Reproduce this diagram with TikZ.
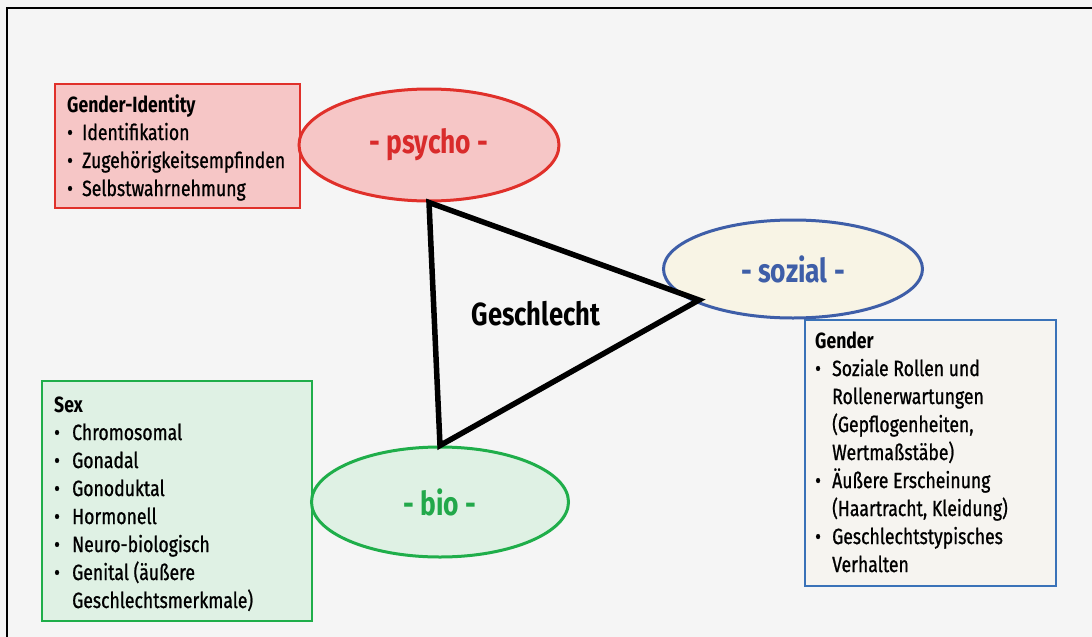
\documentclass[tikz,border=0pt]{standalone}
\usepackage{fontspec}
\setmainfont{Fira Sans}[FakeStretch=0.8, UprightFeatures={FakeBold=0.9}]
\usetikzlibrary{shapes.geometric,backgrounds}
\definecolor{bg}{HTML}{F5F5F5}
\definecolor{redline}{HTML}{E0302A}
\definecolor{redfill}{HTML}{F6C6C6}
\definecolor{redtext}{HTML}{D92B2B}
\definecolor{blueline}{HTML}{3E5EA8}
\definecolor{bluefill}{HTML}{F8F4E5}
\definecolor{boxblue}{HTML}{3A72B8}
\definecolor{boxbluefill}{HTML}{F6F4F0}
\definecolor{greenline}{HTML}{1FAE4A}
\definecolor{greenfill}{HTML}{DFF1E4}
\definecolor{greentext}{HTML}{22A84A}
\newcommand\bul[1]{\makebox[#1][l]{\textbullet}}
\tikzset{
  infobox/.style={draw, line width=2, rectangle, inner sep=0},
  circ/.style={ellipse, draw, line width=3, inner sep=0, font=\fontsize{33}{36}\selectfont\bfseries},
  boxtext/.style={anchor=base west, inner sep=0, font=\fontsize{22}{28}\selectfont},
}
\begin{document}
\begin{tikzpicture}[x=1pt,y=-1pt]
\useasboundingbox (0,0) rectangle (1092,637);
\fill[bg] (0,0) rectangle (1092,637);
\draw[line width=2.5] (7,637) -- (7,8) -- (1092,8);

% boxes
\node[infobox, draw=redline, fill=redfill, minimum width=245, minimum height=124] (rb) at (177.5,146) {};
\node[infobox, draw=greenline, fill=greenfill, minimum width=270, minimum height=240] (gb) at (177,501) {};
\node[infobox, draw=boxblue, fill=boxbluefill, minimum width=251, minimum height=266] (bb) at (930.5,453) {};

% ellipses
\node[circ, draw=redline, fill=redfill, text=redtext, minimum width=260, minimum height=112] (ps) at (429,145) {- psycho -};
\node[circ, draw=blueline, fill=bluefill, text=blueline, minimum width=259, minimum height=98] (so) at (793,269) {- sozial -};
\node[circ, draw=greenline, fill=greenfill, text=greentext, minimum width=257, minimum height=110] (bio) at (440,502) {- bio -};

% triangle
\coordinate (sv) at (699,300);
\draw[line width=5.5, line join=miter] (ps.south) -- (sv) -- (bio.north) -- cycle;
\node[font=\fontsize{32}{36}\selectfont\bfseries] (g) at (536,314) {Geschlecht};

% texts
\node[boxtext] (rt) at (67,112) {\begin{tabular}[t]{@{}l@{}l@{}}
\multicolumn{2}{@{}l@{}}{\bfseries Gender-Identity}\\
\bul{15pt} & Identifikation\\
\bul{15pt} & Zugehörigkeitsempfinden\\
\bul{15pt} & Selbstwahrnehmung
\end{tabular}};

\node[boxtext] (gt) at (54,412) {\begin{tabular}[t]{@{}l@{}l@{}}
\multicolumn{2}{@{}l@{}}{\bfseries Sex}\\
\bul{18pt} & Chromosomal\\
\bul{18pt} & Gonadal\\
\bul{18pt} & Gonoduktal\\
\bul{18pt} & Hormonell\\
\bul{18pt} & Neuro-biologisch\\
\bul{18pt} & Genital (äußere\\
 & Geschlechtsmerkmale)
\end{tabular}};

\node[boxtext] (bt) at (815,348) {\begin{tabular}[t]{@{}l@{}l@{}}
\multicolumn{2}{@{}l@{}}{\bfseries Gender}\\
\bul{17pt} & Soziale Rollen und\\
 & Rollenerwartungen\\
 & (Gepflogenheiten,\\
 & Wertmaßstäbe)\\
\bul{17pt} & Äußere Erscheinung\\
 & (Haartracht, Kleidung)\\
\bul{17pt} & Geschlechtstypisches\\
 & Verhalten
\end{tabular}};
\end{tikzpicture}
\end{document}
